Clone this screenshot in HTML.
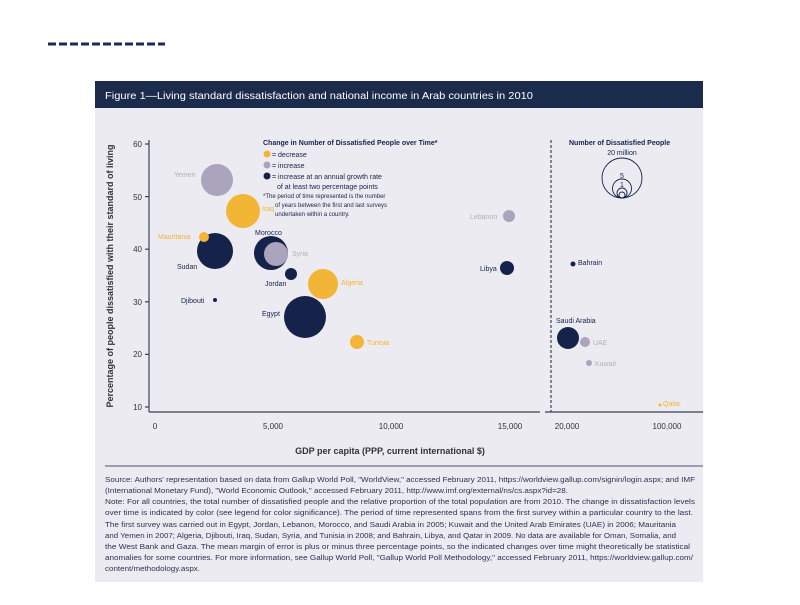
<!DOCTYPE html>
<html><head><meta charset="utf-8"><style>
body{margin:0;background:#fff;width:800px;height:600px;overflow:hidden;font-family:"Liberation Sans",sans-serif}
</style></head><body>
<svg width="800" height="600" xmlns="http://www.w3.org/2000/svg" font-family="Liberation Sans, sans-serif">
<line x1="48" y1="44" x2="165" y2="44" stroke="#1b2a5a" stroke-width="3" stroke-dasharray="8,3"/>
<rect x="95" y="81" width="608" height="501" fill="#ecebf1"/>
<rect x="95" y="81" width="608" height="27" fill="#1b2b4c"/>
<text x="105" y="99" fill="#fff" font-size="10.5" textLength="428" lengthAdjust="spacingAndGlyphs">Figure 1—Living standard dissatisfaction and national income in Arab countries in 2010</text>
<g stroke="#3a3f55" stroke-width="1.2" fill="none">
<line x1="149" y1="140" x2="149" y2="412"/>
<line x1="149" y1="412" x2="540" y2="412"/>
<line x1="545" y1="412" x2="703" y2="412"/>
<line x1="551" y1="140" x2="551" y2="412" stroke-dasharray="3,2"/>
<line x1="145" y1="144" x2="149" y2="144"/><line x1="145" y1="196.6" x2="149" y2="196.6"/><line x1="145" y1="249.2" x2="149" y2="249.2"/><line x1="145" y1="301.8" x2="149" y2="301.8"/><line x1="145" y1="354.4" x2="149" y2="354.4"/><line x1="145" y1="407" x2="149" y2="407"/>
</g>
<g font-size="8" fill="#333" text-anchor="end">
<text x="142" y="147">60</text><text x="142" y="200">50</text><text x="142" y="252">40</text><text x="142" y="305">30</text><text x="142" y="357">20</text><text x="142" y="410">10</text>
</g>
<g font-size="8" fill="#333" text-anchor="middle">
<text x="155" y="429">0</text><text x="273" y="429">5,000</text><text x="391" y="429">10,000</text><text x="510" y="429">15,000</text><text x="567" y="429">20,000</text><text x="667" y="429">100,000</text>
</g>
<text x="390" y="454" font-size="9" font-weight="bold" fill="#333" text-anchor="middle">GDP per capita (PPP, current international $)</text>
<text transform="translate(113,276) rotate(-90)" font-size="9" font-weight="bold" fill="#333" text-anchor="middle">Percentage of people dissatisfied with their standard of living</text>
<line x1="105" y1="466" x2="703" y2="466" stroke="#4a5070" stroke-width="1"/>
<g>
<circle cx="217" cy="180" r="16" fill="#aaa4bc"/>
<circle cx="243" cy="211" r="17" fill="#f2b535"/>
<circle cx="215" cy="251" r="18" fill="#15234a"/>
<circle cx="204" cy="237" r="5" fill="#f2b535"/>
<circle cx="271" cy="253" r="17" fill="#15234a"/>
<circle cx="276" cy="254" r="12" fill="#aaa4bc"/>
<circle cx="291" cy="274" r="6" fill="#15234a"/>
<circle cx="323" cy="284" r="15" fill="#f2b535"/>
<circle cx="215" cy="300" r="2" fill="#15234a"/>
<circle cx="305" cy="317" r="21" fill="#15234a"/>
<circle cx="357" cy="342" r="7" fill="#f2b535"/>
<circle cx="509" cy="216" r="6" fill="#aaa4bc"/>
<circle cx="507" cy="268" r="7" fill="#15234a"/>
<circle cx="573" cy="264" r="2.5" fill="#15234a"/>
<circle cx="568" cy="338" r="11" fill="#15234a"/>
<circle cx="585" cy="342" r="5" fill="#aaa4bc"/>
<circle cx="589" cy="363" r="3" fill="#aaa4bc"/>
<circle cx="660" cy="405" r="1.5" fill="#f2b535"/>
</g>
<g font-size="7">
<text x="174" y="177" fill="#b2adc2">Yemen</text>
<text x="262" y="211" fill="#f2b535">Iraq</text>
<text x="158" y="239" fill="#f2b535">Mauritania</text>
<text x="255" y="235" fill="#15234a">Morocco</text>
<text x="292" y="256" fill="#b2adc2">Syria</text>
<text x="177" y="269" fill="#15234a">Sudan</text>
<text x="265" y="286" fill="#15234a">Jordan</text>
<text x="341" y="285" fill="#f2b535">Algeria</text>
<text x="181" y="303" fill="#15234a">Djibouti</text>
<text x="262" y="316" fill="#15234a">Egypt</text>
<text x="367" y="345" fill="#f2b535">Tunisia</text>
<text x="470" y="219" fill="#b2adc2">Lebanon</text>
<text x="480" y="271" fill="#15234a">Libya</text>
<text x="578" y="265" fill="#15234a">Bahrain</text>
<text x="556" y="323" fill="#15234a">Saudi Arabia</text>
<text x="593" y="345" fill="#b2adc2">UAE</text>
<text x="595" y="366" fill="#b2adc2">Kuwait</text>
<text x="663" y="406" fill="#f2b535">Qatar</text>
</g>
<g font-size="7" fill="#15234a">
<text x="263" y="145" font-weight="bold">Change in Number of Dissatisfied People over Time*</text>
<circle cx="267" cy="154" r="3.5" fill="#f2b535"/><text x="272" y="157">= decrease</text>
<circle cx="267" cy="165" r="3.5" fill="#aaa4bc"/><text x="272" y="168">= increase</text>
<circle cx="267" cy="176" r="3.5" fill="#15234a"/><text x="272" y="179">= increase at an annual growth rate</text>
<text x="277" y="189">of at least two percentage points</text>
<text x="263" y="198" font-size="6">*The period of time represented is the number</text>
<text x="275" y="207" font-size="6">of years between the first and last surveys</text>
<text x="275" y="216" font-size="6">undertaken within a country.</text>
<text x="569" y="145" font-weight="bold">Number of Dissatisfied People</text>
<text x="622" y="155" text-anchor="middle">20 million</text>
<text x="622" y="178" text-anchor="middle">5</text>
<text x="622" y="187" text-anchor="middle">1</text>
</g>
<g fill="none" stroke="#15234a" stroke-width="0.9">
<circle cx="622" cy="178" r="20"/><circle cx="622" cy="188.5" r="9.5"/><circle cx="622" cy="193" r="5"/><circle cx="622" cy="195" r="3"/>
</g>
<g font-size="7" fill="#2a3350" lengthAdjust="spacingAndGlyphs">
<text x="105" y="482" textLength="590" lengthAdjust="spacingAndGlyphs">Source: Authors' representation based on data from Gallup World Poll, "WorldView," accessed February 2011, https://worldview.gallup.com/signin/login.aspx; and IMF</text>
<text x="105" y="493" textLength="463" lengthAdjust="spacingAndGlyphs">(International Monetary Fund), "World Economic Outlook," accessed February 2011, http://www.imf.org/external/ns/cs.aspx?id=28.</text>
<text x="105" y="504" textLength="590" lengthAdjust="spacingAndGlyphs">Note: For all countries, the total number of dissatisfied people and the relative proportion of the total population are from 2010. The change in dissatisfaction levels</text>
<text x="105" y="515" textLength="588" lengthAdjust="spacingAndGlyphs">over time is indicated by color (see legend for color significance). The period of time represented spans from the first survey within a particular country to the last.</text>
<text x="105" y="527" textLength="571" lengthAdjust="spacingAndGlyphs">The first survey was carried out in Egypt, Jordan, Lebanon, Morocco, and Saudi Arabia in 2005; Kuwait and the United Arab Emirates (UAE) in 2006; Mauritania</text>
<text x="105" y="538" textLength="571" lengthAdjust="spacingAndGlyphs">and Yemen in 2007; Algeria, Djibouti, Iraq, Sudan, Syria, and Tunisia in 2008; and Bahrain, Libya, and Qatar in 2009. No data are available for Oman, Somalia, and</text>
<text x="105" y="549" textLength="585" lengthAdjust="spacingAndGlyphs">the West Bank and Gaza. The mean margin of error is plus or minus three percentage points, so the indicated changes over time might theoretically be statistical</text>
<text x="105" y="560" textLength="588" lengthAdjust="spacingAndGlyphs">anomalies for some countries. For more information, see Gallup World Poll, "Gallup World Poll Methodology," accessed February 2011, https://worldview.gallup.com/</text>
<text x="105" y="571" textLength="95" lengthAdjust="spacingAndGlyphs">content/methodology.aspx.</text>
</g>
</svg>
</body></html>
